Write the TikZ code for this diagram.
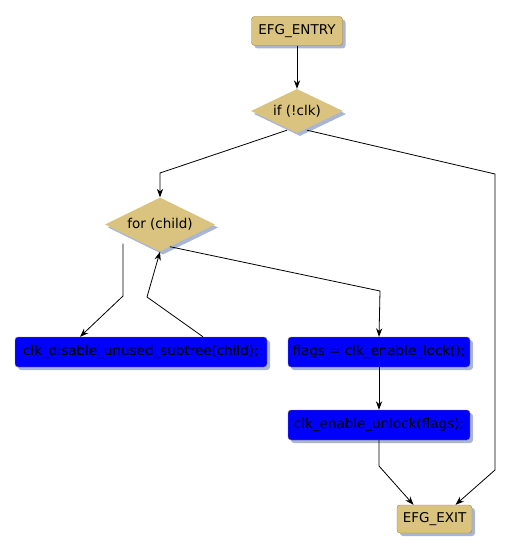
\documentclass[tikz,border=0pt]{standalone}
\usepackage{fontspec}
\setmainfont{DejaVu Sans}
\usetikzlibrary{arrows.meta,shapes.geometric,shadows}
\definecolor{sand}{HTML}{D9C37E}
\definecolor{sandline}{HTML}{9C8646}
\definecolor{haze}{HTML}{A9B6D3}
\definecolor{stmtblue}{HTML}{0000FF}
\tikzset{term/.style={draw=sandline,fill=sand,rounded corners=3pt,font=\fontsize{13.5}{16}\selectfont,inner sep=2pt,drop shadow={shadow xshift=3pt,shadow yshift=-3pt,fill=haze,opacity=1}},cond/.style={diamond,draw=none,fill=sand,font=\fontsize{13.5}{16}\selectfont,inner sep=0pt,aspect=2,drop shadow={shadow xshift=3pt,shadow yshift=-3pt,fill=haze,opacity=1}},stmt/.style={draw=sandline,fill=stmtblue,rounded corners=3pt,font=\fontsize{13.5}{16}\selectfont,inner sep=2pt,minimum height=30pt,drop shadow={shadow xshift=3pt,shadow yshift=-3pt,fill=haze,opacity=1}},flow/.style={-{Stealth[length=3mm,width=2.2mm]},draw=black,line width=0.8pt}}

\begin{document}
\begin{tikzpicture}[x=1pt,y=-1pt]
\useasboundingbox (0,0) rectangle (510,553);
\node[term,minimum width=91pt,minimum height=29pt] (entry) at (297,31) {EFG\_ENTRY};
\node[cond,minimum width=92pt,minimum height=44pt] (ifc) at (297,111) {if (!clk)};
\node[cond,minimum width=110pt,minimum height=54pt] (forc) at (160,224.5) {for (child)};
\node[stmt,minimum width=252pt] (disable) at (141,352) {clk\_disable\_unused\_subtree(child);};
\node[stmt,minimum width=182pt] (flags) at (379,352) {flags = clk\_enable\_lock();};
\node[stmt,minimum width=182pt] (unlock) at (379,425) {clk\_enable\_unlock(flags);};
\node[term,minimum width=75pt,minimum height=28pt] (exit) at (434.5,519) {EFG\_EXIT};
\draw[flow](entry)--(ifc);
\draw[flow]([xshift=-10pt,yshift=3pt]ifc.south)--(160,173)--(forc.north);
\draw[flow]([xshift=10pt,yshift=3pt]ifc.south)--(495,174)--(495,470)--([xshift=21pt]exit.north);
\draw[flow]([xshift=-37pt,yshift=8pt]forc.south)--(123,296)--([xshift=-61pt]disable.north);
\draw[flow]([xshift=62pt]disable.north)--(147,297)--(forc.south);
\draw[flow]([xshift=10pt,yshift=5pt]forc.south)--(380,291)--(flags.north);
\draw[flow](flags)--(unlock);
\draw[flow](unlock.south)--(379,466)--([xshift=-21pt]exit.north);
\end{tikzpicture}
\end{document}
